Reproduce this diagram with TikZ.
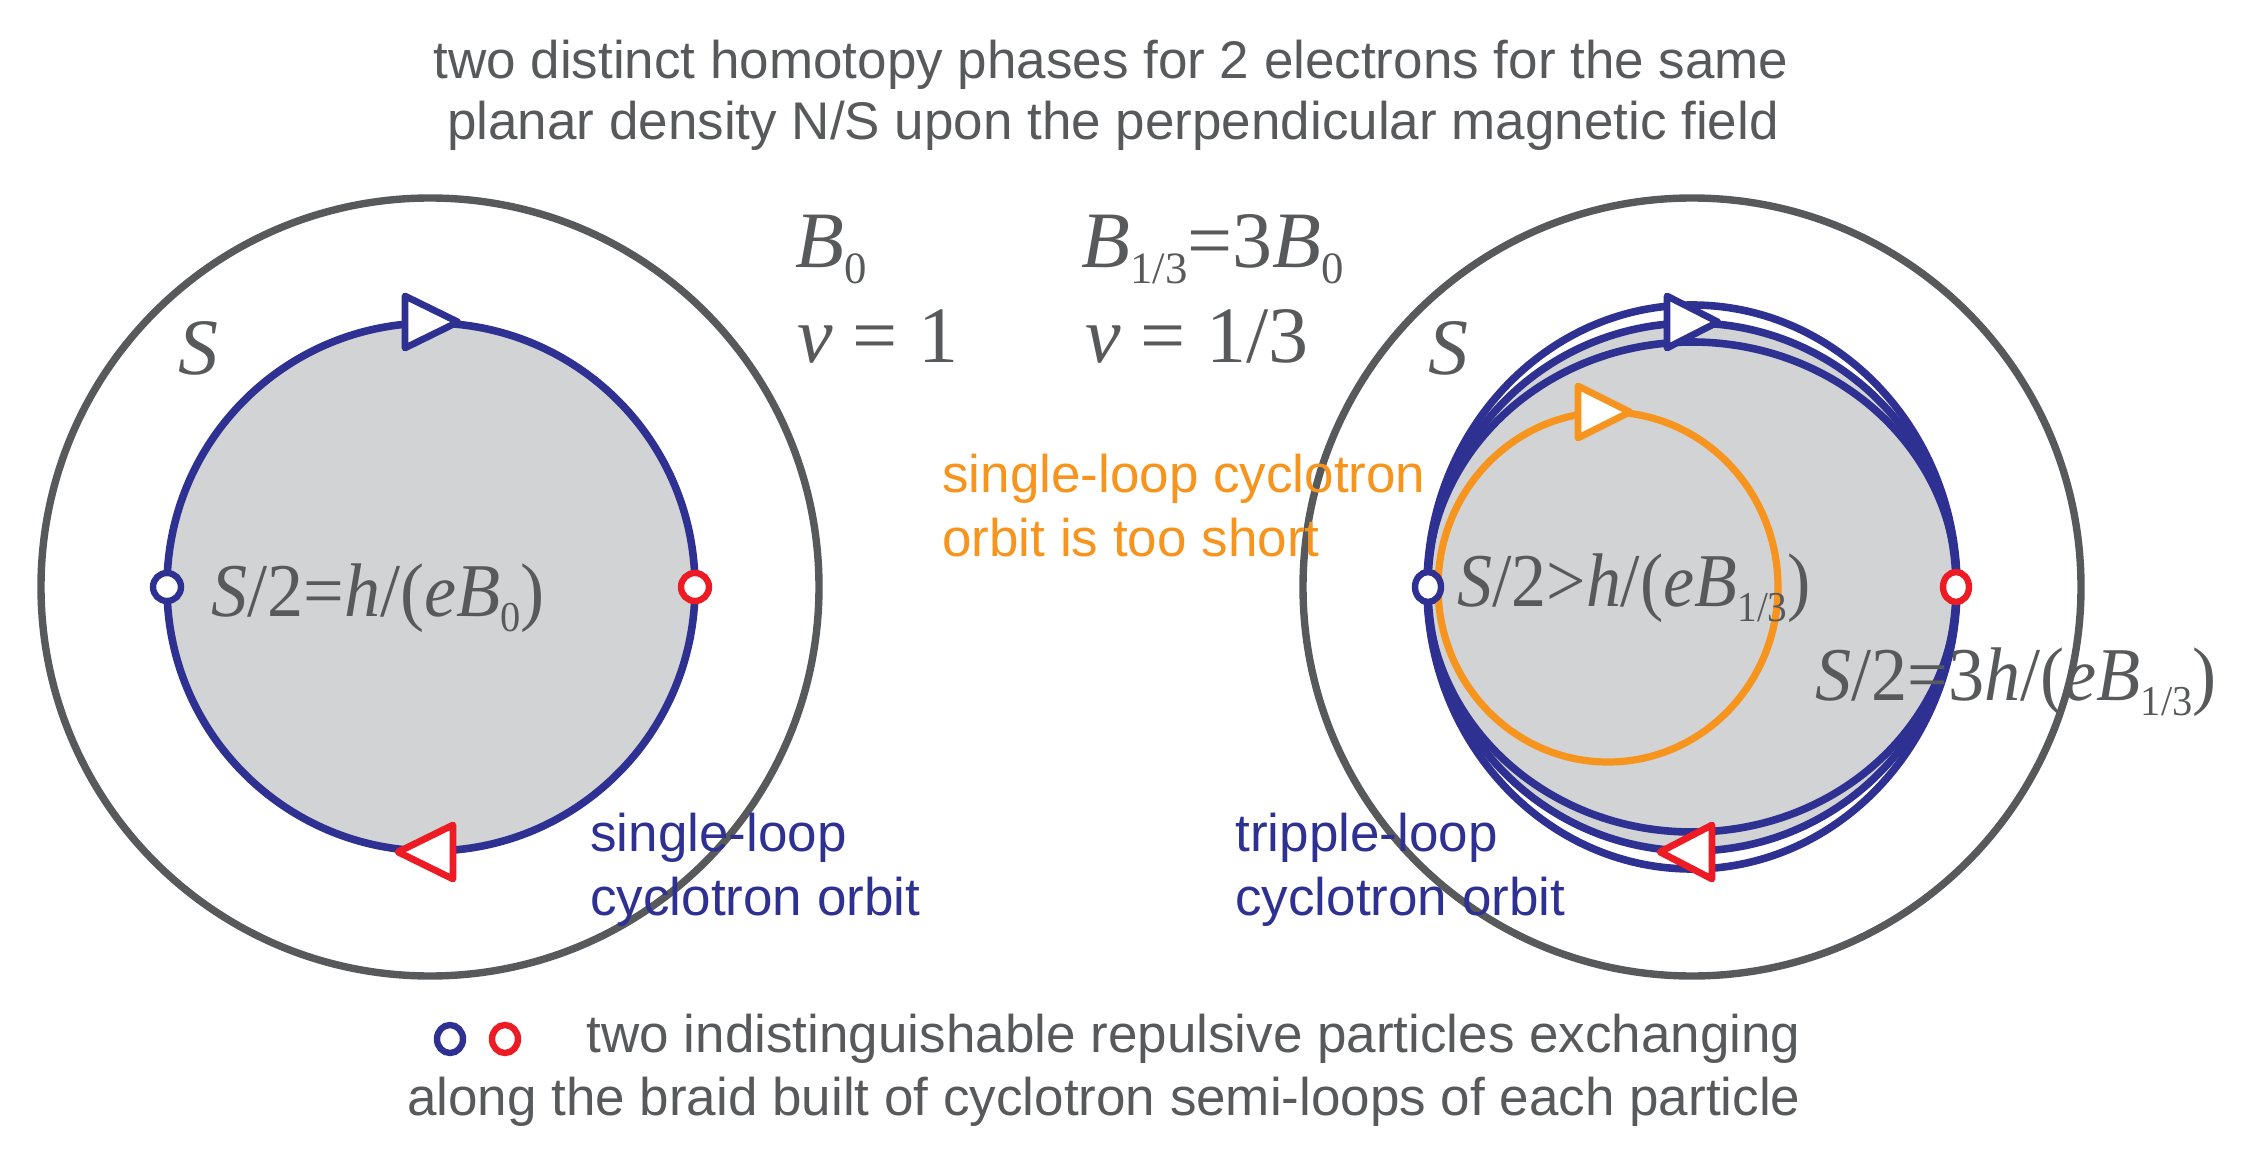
\documentclass[tikz,border=0pt]{standalone}
\usepackage{fontspec}
\usepackage{graphicx}
\setmainfont{Liberation Sans}
\newfontfamily\tms{Liberation Serif}
\definecolor{tgray}{HTML}{58595B}
\definecolor{tblue}{HTML}{2E3192}
\definecolor{tred}{HTML}{ED1C24}
\definecolor{torange}{HTML}{F7941D}
\definecolor{tfill}{HTML}{D1D3D4}
\newcommand\mi[1]{\textit{#1}}
\newcommand\sbs[1]{\raisebox{-0.2em}{\scalebox{0.56}{#1}}}
\newcommand\cnd[1]{\scalebox{0.95}[1]{#1}}
\tikzset{
  outerc/.style={draw=tgray, line width=3.7pt},
  orbit/.style={draw=tblue, line width=3.8pt},
  orangeorbit/.style={draw=torange, line width=3.6pt},
  marker/.style={line width=3.2pt, fill=white},
  arrowtri/.style={line width=3.4pt, fill=white, line join=round},
  sanslbl/.style={inner sep=0pt, font=\fontsize{26.5}{30.5}\selectfont},
  mathlbl/.style={inner sep=0pt, text=tgray, font=\tms\fontsize{40}{44}\selectfont},
  formula/.style={inner sep=0pt, text=tgray, font=\tms\fontsize{38}{42}\selectfont},
}
\begin{document}
\begin{tikzpicture}[x=0.5pt,y=-0.5pt]
\useasboundingbox (0,0) rectangle (2250,1155);

% ---------- left diagram ----------
\draw[outerc] (430,587) circle [radius=389];
\fill[tfill] (431,587) circle [radius=264];
\draw[orbit] (431,587) circle [radius=264];
\draw[arrowtri, draw=tblue] (405,296) -- (458,322) -- (405,348) -- cycle;
\draw[arrowtri, draw=tred] (453,825) -- (398,852) -- (453,879) -- cycle;
\draw[marker, draw=tblue] (167,587) circle [radius=14];
\draw[marker, draw=tred] (695,587) circle [radius=14];

\node[mathlbl, anchor=base west] (sleft) at (178,374) {\mi{S}};
\node[formula, anchor=base] (fleft) at (378,616) {\cnd{\mi{S}/2=\mi{h}/(\mi{eB}\sbs{0})}};
\node[sanslbl, text=tblue, anchor=base west] (bl1) at (590,851) {single-loop};
\node[sanslbl, text=tblue, anchor=base west] (bl2) at (590,915) {cyclotron orbit};

% ---------- right diagram ----------
\draw[outerc] (1692,587) circle [radius=389];
\fill[tfill] (1692,587) circle [radius=264];
\draw[orangeorbit] (1608,587) circle [x radius=170, y radius=175];
\draw[orbit] (1692,587) ellipse [x radius=265, y radius=282];
\draw[orbit] (1692,587) circle [radius=264];
\draw[orbit] (1692,587) ellipse [x radius=265, y radius=245];
\draw[arrowtri, draw=torange] (1578,386) -- (1630,412) -- (1578,438) -- cycle;
\draw[arrowtri, draw=tblue] (1667,296) -- (1718,322) -- (1667,348) -- cycle;
\draw[arrowtri, draw=tred] (1712,825) -- (1660,852) -- (1712,879) -- cycle;
\draw[marker, draw=tblue] (1428,587) circle [x radius=13, y radius=15];
\draw[marker, draw=tred] (1956,587) circle [x radius=13, y radius=15];

\node[mathlbl, anchor=base west] (sright) at (1428,374) {\mi{S}};
\node[formula, anchor=base] (fright) at (1634,606) {\scalebox{0.92}[1]{\mi{S}/2>\mi{h}/(\mi{eB}\sbs{1/3})}};
\node[formula, anchor=base] (fright2) at (2016,700) {\cnd{\mi{S}/2=3\mi{h}/(\mi{eB}\sbs{1/3})}};
\node[sanslbl, text=tblue, anchor=base west] (br1) at (1235,851) {tripple-loop};
\node[sanslbl, text=tblue, anchor=base west] (br2) at (1235,915) {cyclotron orbit};
\node[sanslbl, text=torange, anchor=base west] (or1) at (942,492) {single-loop cyclotron};
\node[sanslbl, text=torange, anchor=base west] (or2) at (942,556) {orbit is too short};

% ---------- middle labels ----------
\node[mathlbl, anchor=base west] (b0) at (795,268) {\mi{B}\sbs{0}};
\node[mathlbl, anchor=base west] (nu1) at (797,363) {\mi{v} = 1};
\node[mathlbl, anchor=base west] (b13) at (1081,268) {\mi{B}\sbs{1/3}=3\mi{B}\sbs{0}};
\node[mathlbl, anchor=base west] (nu13) at (1085,363) {\mi{v} = 1/3};

% ---------- title ----------
\node[sanslbl, text=tgray, anchor=base] (t1) at (1111,79) {two distinct homotopy phases for 2 electrons for the same};
\node[sanslbl, text=tgray, anchor=base] (t2) at (1113,140) {planar density N/S upon the perpendicular magnetic field};

% ---------- legend ----------
\draw[marker, draw=tblue] (450,1039) circle [x radius=13, y radius=14];
\draw[marker, draw=tred] (505,1039) circle [x radius=13, y radius=14];
\node[sanslbl, text=tgray, anchor=base east] (l1) at (1801,1052) {two indistinguishable repulsive particles exchanging};
\node[sanslbl, text=tgray, anchor=base east] (l2) at (1801,1115) {along the braid built of cyclotron semi-loops of each particle};
\end{tikzpicture}
\end{document}
